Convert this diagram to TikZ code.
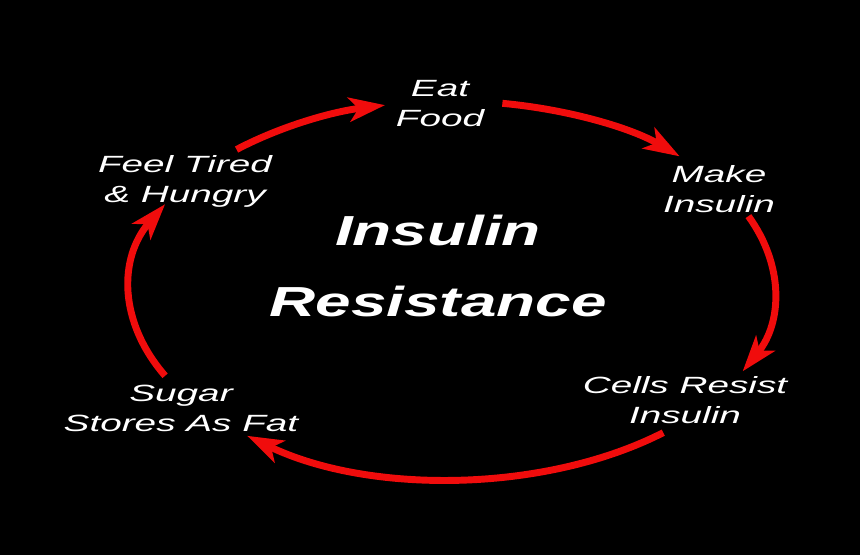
\documentclass[tikz,border=0pt]{standalone}
\usepackage{fontspec}
\setmainfont{Liberation Sans}
\newfontfamily\stagefont[FakeStretch=1.65]{Liberation Sans}
\newfontfamily\headfont[FakeStretch=1.52]{Liberation Sans}
\usepackage{xcolor}
\usepackage{tikz}
\usetikzlibrary{arrows.meta}
\definecolor{cyclered}{RGB}{240,12,12}

\begin{document}
\begin{tikzpicture}[x=0.75pt, y=-0.75pt,
  every node/.style={text=white, align=center, inner sep=0pt},
  stage/.style={font={\stagefont\itshape\fontsize{17.6}{22.5}\selectfont}},
  cycarrow/.style={-{Stealth[length=27pt, width=18pt, inset=7pt]}, line width=5.2pt, draw=cyclered}]
% Background (also fixes the page size)
\fill[black] (0,0) rectangle (860,555);
% Centre title
\node[font={\headfont\bfseries\itshape\fontsize{31.5}{53}\selectfont}] (title) at (438,266) {Insulin\\Resistance};
% Stages of the cycle
\node[stage] (eat)    at (440,104) {Eat\\Food};
\node[stage] (make)   at (719,189) {Make\\Insulin};
\node[stage] (resist) at (685,400) {Cells Resist\\Insulin};
\node[stage] (fat)    at (181,408) {Sugar\\Stores As Fat};
\node[stage] (tired)  at (185,181) {Feel Tired\\\& Hungry};
% Red arrows, all on one ellipse round the title
\coordinate (hub) at (452,290);
\draw[cycarrow] (hub) ++(-132:322 and 189) arc[start angle=-132, end angle=-102, x radius=322, y radius=189];
\draw[cycarrow] (hub) ++(-81:322 and 189)  arc[start angle=-81,  end angle=-45,  x radius=322, y radius=189];
\draw[cycarrow] (hub) ++(-23:322 and 189)  arc[start angle=-23,  end angle=25.5, x radius=322, y radius=189];
\draw[cycarrow] (hub) ++(49:322 and 189)   arc[start angle=49,   end angle=129.5, x radius=322, y radius=189];
\draw[cycarrow] (hub) ++(153:322 and 189)  arc[start angle=153,  end angle=207,  x radius=322, y radius=189];
\end{tikzpicture}
\end{document}
